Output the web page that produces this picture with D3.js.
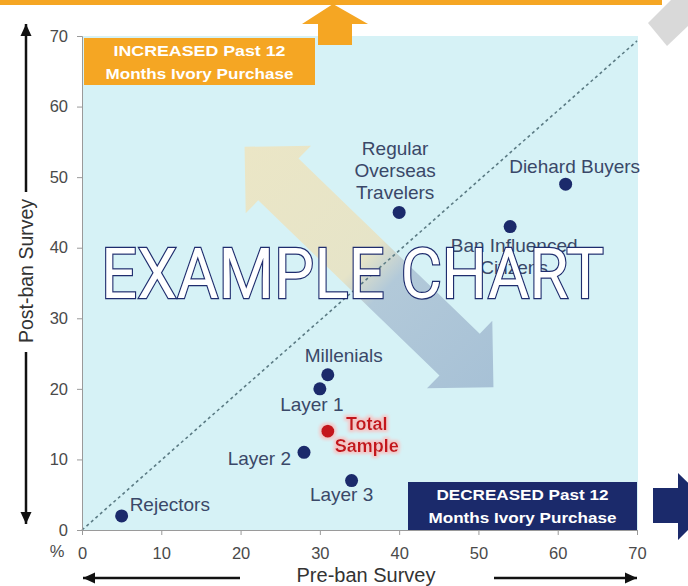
<!DOCTYPE html>
<html><head><meta charset="utf-8">
<script src="https://cdn.jsdelivr.net/npm/d3@7"></script>
<style>html,body{margin:0;padding:0;background:#fff;}svg{display:block;font-family:"Liberation Sans",Arial,sans-serif;}</style>
</head><body>
<svg id="chart" width="688" height="586"></svg>
<script>
// ---- data ----
const segments = ["Rejectors","Layer 2","Total Sample","Layer 3","Layer 1","Millenials","Regular Overseas Travelers","Ban Influenced Citizens","Diehard Buyers"];
const preBan  = [5, 28, 31, 34, 30, 31, 40, 54, 61];
const postBan = [2, 11, 14, 7, 20, 22, 45, 43, 49];
const xTicks = [0,10,20,30,40,50,60,70];
const yTicks = [0,10,20,30,40,50,60,70];
const xTitle = "Pre-ban Survey";
const yTitle = "Post-ban Survey";
const increasedLines = ["INCREASED Past 12","Months Ivory Purchase"];
const decreasedLines = ["DECREASED Past 12","Months Ivory Purchase"];

// label text lines and placement (offsets from point in px, anchor)
const labelLines = [["Rejectors"],["Layer 2"],["Total","Sample"],["Layer 3"],["Layer 1"],["Millenials"],["Regular","Overseas","Travelers"],["Ban Influenced","Citizens"],["Diehard Buyers"]];
const labelPos = [
  {dx:8, dy:-5, a:"start"},
  {dx:-13, dy:13, a:"end"},
  {dx:39, dy:-1, a:"middle"},
  {dx:-10, dy:20, a:"middle"},
  {dx:-8, dy:22, a:"middle"},
  {dx:16, dy:-13, a:"middle"},
  {dx:-4, dy:-57, a:"middle"},
  {dx:4, dy:25, a:"middle"},
  {dx:9, dy:-11, a:"middle"}
];

const svg = d3.select("#chart");
const x = d3.scaleLinear().domain([0,70]).range([82,637]);
const y = d3.scaleLinear().domain([0,70]).range([530,36]);

const defs = svg.append("defs");
const grad = defs.append("linearGradient").attr("id","bigArrow").attr("x1","0%").attr("x2","100%").attr("y1","0%").attr("y2","0%");
grad.append("stop").attr("offset","0%").attr("stop-color","#ebe6c6");
grad.append("stop").attr("offset","47%").attr("stop-color","#e6e4c8");
grad.append("stop").attr("offset","58%").attr("stop-color","#b2c9d9");
grad.append("stop").attr("offset","100%").attr("stop-color","#a7c1d6");
const glow = defs.append("filter").attr("id","glow").attr("x","-30%").attr("y","-30%").attr("width","160%").attr("height","160%");
glow.append("feMorphology").attr("operator","dilate").attr("radius",1.5).attr("in","SourceAlpha").attr("result","d");
glow.append("feFlood").attr("flood-color","#f4c7c7");
glow.append("feComposite").attr("in2","d").attr("operator","in").attr("result","c");
glow.append("feGaussianBlur").attr("in","c").attr("stdDeviation",1.5).attr("result","b");
const fm = glow.append("feMerge");
fm.append("feMergeNode").attr("in","b");
fm.append("feMergeNode").attr("in","SourceGraphic");

// plot background
svg.append("rect").attr("x",x(0)).attr("y",y(70)).attr("width",x(70)-x(0)+1).attr("height",y(0)-y(70)).attr("fill","#d6f2f6");

// top decorations
svg.append("rect").attr("x",0).attr("y",0).attr("width",662).attr("height",5).attr("fill","#f5a623");
svg.append("polygon").attr("points","333,4 368,24 352,24 352,45 318,45 318,24 302,24").attr("fill","#f5a623");
svg.append("polygon").attr("points","648,23 671,0 688,0 688,26 667,46").attr("fill","#d9d9d9");

// big double arrow
const cx=369, cy=267, L=173, hl=47, hw=47, sw=29;
svg.append("polygon")
  .attr("points",[[-L,0],[-L+hl,-hw],[-L+hl,-sw],[L-hl,-sw],[L-hl,-hw],[L,0],[L-hl,hw],[L-hl,sw],[-L+hl,sw],[-L+hl,hw]].map(p=>p.join(",")).join(" "))
  .attr("transform",`translate(${cx},${cy}) rotate(44)`)
  .attr("fill","url(#bigArrow)");

// diagonal
svg.append("line").attr("x1",x(0)).attr("y1",y(0)).attr("x2",x(70)).attr("y2",y(69.3))
  .attr("stroke","#5b7b84").attr("stroke-width",1.6).attr("stroke-dasharray","3,3");

// axes
const yAxis = svg.append("g").attr("transform",`translate(${x(0)},0)`)
  .call(d3.axisLeft(y).tickValues(yTicks).tickSize(5).tickPadding(9).tickFormat(d3.format("d")));
const xAxis = svg.append("g").attr("transform",`translate(0,${y(0)})`)
  .call(d3.axisBottom(x).tickValues(xTicks).tickSize(5).tickPadding(9).tickFormat(d3.format("d")));
[yAxis,xAxis].forEach(g=>{
  g.select(".domain").attr("stroke","#9a9a9a");
  g.selectAll(".tick line").attr("stroke","#9a9a9a");
  g.selectAll("text").attr("fill","#4a4a4a").attr("font-size",16.5).attr("font-family","Liberation Sans, Arial, sans-serif");
});
xAxis.selectAll(".tick text").attr("dy","0.9em");
svg.append("text").attr("x",57).attr("y",557).attr("text-anchor","middle").attr("font-size",16.5).attr("fill","#4a4a4a").text("%");

// boxes
function box(x0,y0,w,h,fill,lines){
  svg.append("rect").attr("x",x0).attr("y",y0).attr("width",w).attr("height",h).attr("fill",fill);
  lines.forEach((t,i)=>{
    svg.append("text").attr("x",x0+w/2).attr("y",y0+18+i*23).attr("text-anchor","middle")
      .attr("font-size",15).attr("font-weight","bold").attr("fill","#fff")
      .attr("textLength", i===0?172:188).attr("lengthAdjust","spacingAndGlyphs").text(t);
  });
}
box(x(0)+2, y(70)+2, 231, 47, "#f5a623", increasedLines);
box(408, 482, x(70)-408, y(0)-482, "#1b2a6b", decreasedLines);

// points
const pts = svg.append("g");
segments.forEach((s,i)=>{
  const isTotal = s==="Total Sample";
  pts.append("circle").attr("cx",x(preBan[i])).attr("cy",y(postBan[i])).attr("r",6.5)
    .attr("fill",isTotal?"#c4141c":"#1b2a6b")
    .attr("filter",isTotal?"url(#glow)":null);
  const p = labelPos[i];
  const lines = labelLines[i];
  const t = pts.append("text").attr("x",x(preBan[i])+p.dx).attr("y",y(postBan[i])+p.dy)
    .attr("text-anchor",p.a).attr("font-size",isTotal?18:19)
    .attr("font-weight",isTotal?"bold":"normal")
    .attr("fill",isTotal?"#c4141c":"#3a4868")
    .attr("filter",isTotal?"url(#glow)":null);
  lines.forEach((ln,j)=>{
    t.append("tspan").attr("x",x(preBan[i])+p.dx).attr("dy",j===0?0:22).text(ln);
  });
});

// axis titles and arrows
function arrow(x1,y1,x2,y2){
  svg.append("line").attr("x1",x1).attr("y1",y1).attr("x2",x2).attr("y2",y2).attr("stroke","#111").attr("stroke-width",2.5);
  const a=Math.atan2(y2-y1,x2-x1), hl=12, hw=5.5;
  const bx=x2-hl*Math.cos(a), by=y2-hl*Math.sin(a);
  svg.append("polygon").attr("points",[[x2,y2],[bx-hw*Math.sin(a),by+hw*Math.cos(a)],[bx+hw*Math.sin(a),by-hw*Math.cos(a)]].map(p=>p.join(",")).join(" ")).attr("fill","#111");
}
arrow(26,192,26,24);
arrow(26,352,26,524);
arrow(240,578,83,578);
arrow(494,578,637,578);
svg.append("text").attr("transform","translate(33,271) rotate(-90)").attr("text-anchor","middle")
  .attr("font-size",19.5).attr("fill","#333").text(yTitle);
svg.append("text").attr("x",366).attr("y",582).attr("text-anchor","middle")
  .attr("font-size",20).attr("fill","#333").text(xTitle);

// right navy arrow
svg.append("polygon").attr("points","653,488 678,488 678,473 712,506 678,540 678,523 653,523").attr("fill","#1b2a6b");

// watermark
svg.append("text").attr("x",101).attr("y",298).attr("font-size",70).attr("font-family","Roboto, sans-serif")
  .attr("textLength",503).attr("lengthAdjust","spacingAndGlyphs")
  .attr("fill","#fff").attr("stroke","#1f2d6e").attr("stroke-width",2.5).attr("paint-order","stroke")
  .text("EXAMPLE CHART");
</script>
</body></html>
